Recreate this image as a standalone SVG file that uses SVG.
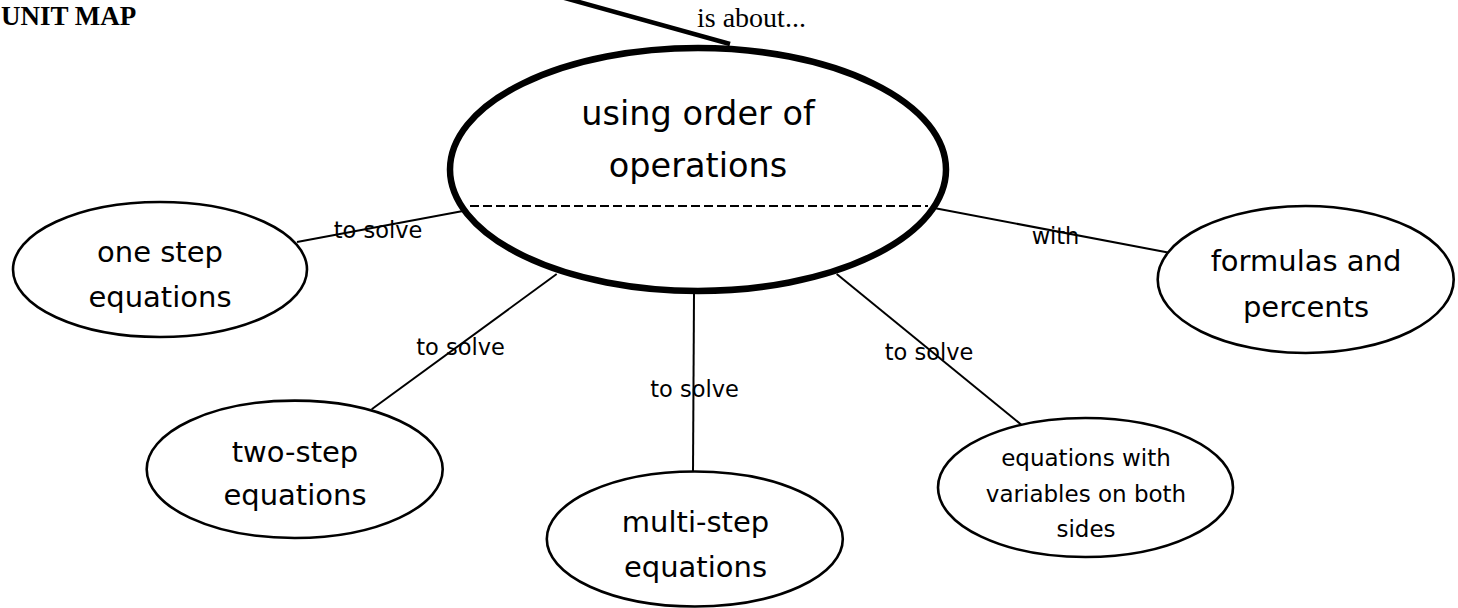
<svg xmlns="http://www.w3.org/2000/svg" width="1458" height="608" viewBox="0 0 1458 608">
<style>
.node{fill:#fff;stroke:#000;stroke-width:2.6}
.main{fill:#fff;stroke:#000;stroke-width:6.5}
.t{font-family:"Comic Sans MS","DejaVu Sans",sans-serif;fill:#000;text-anchor:middle}
.n{font-size:29px}
.big{font-size:33.5px}
.sm{font-size:23px}
.lab{font-size:22.5px}
.ser{font-family:"Liberation Serif","Times New Roman",serif;fill:#000}
.c{stroke:#000;stroke-width:2;fill:none}
</style>
<rect width="1458" height="608" fill="#fff"/>
<text class="ser" x="1" y="25" font-size="27" font-weight="bold">UNIT MAP</text>
<g id="connectors">
<line class="c" x1="297" y1="242" x2="463" y2="211"/>
<line class="c" x1="934" y1="208" x2="1168" y2="252.6"/>
<line class="c" x1="371.7" y1="409.3" x2="556.7" y2="274"/>
<line class="c" x1="694" y1="293" x2="693" y2="471.7"/>
<line class="c" x1="836.7" y1="274" x2="1021.7" y2="425"/>
<line x1="560" y1="-3.3" x2="730" y2="44" stroke="#000" stroke-width="4.5"/>
<text class="t lab" x="378" y="238">to solve</text>
<text class="t lab" x="1055.5" y="243.6">with</text>
<text class="t lab" x="460.5" y="355">to solve</text>
<text class="t lab" x="694.5" y="397">to solve</text>
<text class="t lab" x="929" y="360">to solve</text>
<text class="ser" x="697" y="27" font-size="28">is about...</text>
</g>
<g id="main-node">
<ellipse class="main" cx="698" cy="169.5" rx="248" ry="121.5"/>
<line x1="470" y1="206" x2="928" y2="206" stroke="#000" stroke-width="2" stroke-dasharray="9,4"/>
<text class="t big" x="698" y="125">using order of</text>
<text class="t big" x="698" y="177">operations</text>
</g>
<g id="one-step">
<ellipse class="node" cx="160" cy="269.5" rx="147" ry="67.5"/>
<text class="t n" x="160" y="262">one step</text>
<text class="t n" x="160" y="306.5">equations</text>
</g>
<g id="formulas">
<ellipse class="node" cx="1305.7" cy="279.5" rx="148" ry="73.5"/>
<text class="t n" x="1306" y="270.5">formulas and</text>
<text class="t n" x="1306" y="317">percents</text>
</g>
<g id="two-step">
<ellipse class="node" cx="294.7" cy="469.3" rx="148" ry="68.7"/>
<text class="t n" x="295" y="461.7">two-step</text>
<text class="t n" x="295" y="505">equations</text>
</g>
<g id="multi-step">
<ellipse class="node" cx="694.8" cy="539" rx="148" ry="67.5"/>
<text class="t n" x="695.5" y="531.7">multi-step</text>
<text class="t n" x="695.5" y="576.7">equations</text>
</g>
<g id="both-sides">
<ellipse class="node" cx="1085.5" cy="487.5" rx="147.5" ry="69.5"/>
<text class="t sm" x="1086" y="466">equations with</text>
<text class="t sm" x="1086" y="502">variables on both</text>
<text class="t sm" x="1086" y="537">sides</text>
</g>
</svg>
